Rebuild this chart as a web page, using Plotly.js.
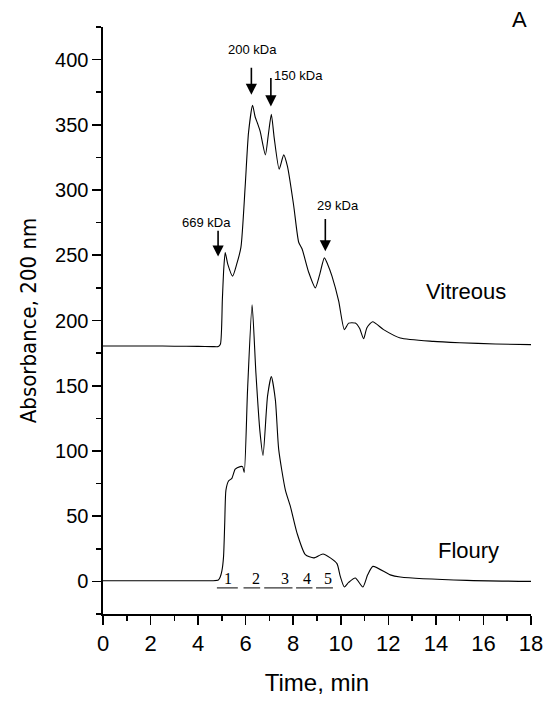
<!DOCTYPE html>
<html>
<head>
<meta charset="utf-8">
<script src="https://cdn.plot.ly/plotly-3.0.1.min.js"></script>
<style>html,body{margin:0;padding:0;background:#fff;}#chart{width:549px;height:702px;}</style>
</head>
<body>
<div id="chart"></div>
<script>
// Vitreous trace (time in min, absorbance)
const vitreousTime = [0, 1, 2, 3, 4, 4.6, 4.85, 4.94, 5.02, 5.08, 5.14, 5.25, 5.45, 5.62, 5.80, 5.98, 6.12, 6.29, 6.40, 6.50, 6.61, 6.83, 6.95, 7.08, 7.20, 7.41, 7.60, 7.76, 8.02, 8.23, 8.37, 8.65, 8.93, 9.11, 9.31, 9.45, 9.63, 9.91, 10.15, 10.33, 10.61, 10.79, 10.96, 11.10, 11.34, 11.80, 12.50, 13.9, 15, 16.5, 18];
const vitreousAbs  = [180.5, 180.5, 180.5, 180.3, 180.2, 180, 180, 182, 216, 240, 252, 243, 234, 243, 256, 303, 344, 365, 356, 351, 345, 327, 342, 358, 340, 316, 327, 318, 288, 260, 255, 237, 225, 235, 248, 243, 234, 215, 193, 198, 198, 194, 186, 194.5, 199, 193, 186.6, 184, 183, 182, 181.5];

// Floury trace
const flouryTime = [0, 1, 2, 3, 4, 4.6, 4.85, 4.93, 5.0, 5.07, 5.12, 5.17, 5.28, 5.42, 5.56, 5.77, 5.87, 5.94, 6.08, 6.27, 6.43, 6.60, 6.73, 6.92, 7.08, 7.25, 7.39, 7.67, 7.88, 8.16, 8.51, 8.86, 9.25, 9.56, 9.84, 9.98, 10.15, 10.33, 10.61, 10.93, 11.13, 11.35, 12.08, 12.5, 15.3, 18];
const flouryAbs  = [0.5, 0.5, 0.5, 0.5, 0.5, 0.5, 1, 3.4, 8, 19, 45, 70, 77, 79, 86, 88, 88, 83.6, 147, 212, 160, 115, 96.6, 142, 157, 139, 101, 70, 57.5, 37, 20.5, 18, 21, 18, 13.6, 3.8, -4.3, -0.8, 2.6, -4.3, 5, 11.5, 5, 3.4, 0.8, 0];

// Molecular weight markers
const markerNames = ['669 kDa', '200 kDa', '150 kDa', '29 kDa'];
const markerTime  = [4.84, 6.24, 7.06, 9.35];
const arrowTop    = [270, 395, 387, 279];
const arrowTip    = [249, 373, 364, 253];
const labelTime   = [4.37, 6.30, 8.23, 9.89];
const labelAbs    = [275, 408, 388, 288];

// Collected fractions
const fractionNames = ['1', '2', '3', '4', '5'];
const fractionStart = [4.79, 5.91, 6.78, 8.12, 8.96];
const fractionEnd   = [5.67, 6.61, 7.97, 8.81, 9.67];
const fractionLabelTime = [5.24, 6.45, 7.64, 8.60, 9.45];

// Sample labels
const sampleNames = ['Vitreous', 'Floury'];
const sampleLabelTime = [15.27, 15.36];
const sampleLabelAbs = [222, 24];

const sans = 'Liberation Sans, Arial, Helvetica, sans-serif';
const serif = 'Liberation Serif, Times New Roman, serif';

const traces = [
  {x: vitreousTime, y: vitreousAbs, mode: 'lines', line: {color: '#000', width: 1.1, shape: 'spline', smoothing: 0.6}, hoverinfo: 'skip'},
  {x: flouryTime, y: flouryAbs, mode: 'lines', line: {color: '#000', width: 1.1, shape: 'spline', smoothing: 0.6}, hoverinfo: 'skip'}
];

const annotations = [];
markerNames.forEach((name, i) => {
  annotations.push({x: markerTime[i], y: arrowTip[i], ax: markerTime[i], ay: arrowTop[i], xref: 'x', yref: 'y', axref: 'x', ayref: 'y',
    text: '', showarrow: true, arrowhead: 2, arrowsize: 1.4, arrowwidth: 1.6, arrowcolor: '#000'});
  annotations.push({x: labelTime[i], y: labelAbs[i], xref: 'x', yref: 'y', text: name, showarrow: false,
    font: {family: sans, size: 13, color: '#000'}});
});
fractionNames.forEach((name, i) => {
  annotations.push({x: fractionLabelTime[i], y: 2, xref: 'x', yref: 'y', text: name, showarrow: false,
    font: {family: serif, size: 16, color: '#000'}});
});
sampleNames.forEach((name, i) => {
  annotations.push({x: sampleLabelTime[i], y: sampleLabelAbs[i], xref: 'x', yref: 'y', text: name, showarrow: false,
    font: {family: sans, size: 22, color: '#000'}});
});
annotations.push({x: 1, y: 1, xref: 'paper', yref: 'paper', xanchor: 'right', yanchor: 'bottom', xshift: -2, yshift: -7, text: 'A', showarrow: false,
  font: {family: sans, size: 22, color: '#000'}});

const shapes = fractionNames.map((n, i) => ({type: 'line', xref: 'x', yref: 'y', x0: fractionStart[i], x1: fractionEnd[i], y0: -5, y1: -5,
  line: {color: '#000', width: 1}}));

const layout = {
  width: 549, height: 702,
  margin: {l: 103, r: 18, t: 27, b: 88},
  paper_bgcolor: '#fff', plot_bgcolor: '#fff',
  showlegend: false,
  font: {family: sans, color: '#000'},
  xaxis: {
    range: [0, 18], tick0: 0, dtick: 2, showgrid: false, zeroline: false,
    showline: true, linewidth: 1.6, linecolor: '#000',
    ticks: 'outside', ticklen: 9, tickwidth: 1.6, tickcolor: '#000',
    minor: {dtick: 1, ticks: 'outside', ticklen: 5, tickwidth: 1.6, tickcolor: '#000'},
    tickfont: {family: sans, size: 22, color: '#000'},
    title: {text: 'Time, min', font: {family: sans, size: 24, color: '#000'}, standoff: 19}
  },
  yaxis: {
    range: [-25, 425], tick0: 0, dtick: 50, showgrid: false, zeroline: false,
    showline: true, linewidth: 1.6, linecolor: '#000',
    ticks: 'outside', ticklen: 9, tickwidth: 1.6, tickcolor: '#000',
    minor: {dtick: 25, ticks: 'outside', ticklen: 5, tickwidth: 1.6, tickcolor: '#000'},
    tickfont: {family: sans, size: 20, color: '#000'},
    title: {text: 'Absorbance, 200 nm', font: {family: 'Liberation Sans Narrow, Arial Narrow, DejaVu Sans Condensed, sans-serif', size: 22, color: '#000'}, standoff: 12}
  },
  annotations: annotations,
  shapes: shapes
};

Plotly.newPlot('chart', traces, layout, {staticPlot: true, displayModeBar: false});
</script>
</body>
</html>
